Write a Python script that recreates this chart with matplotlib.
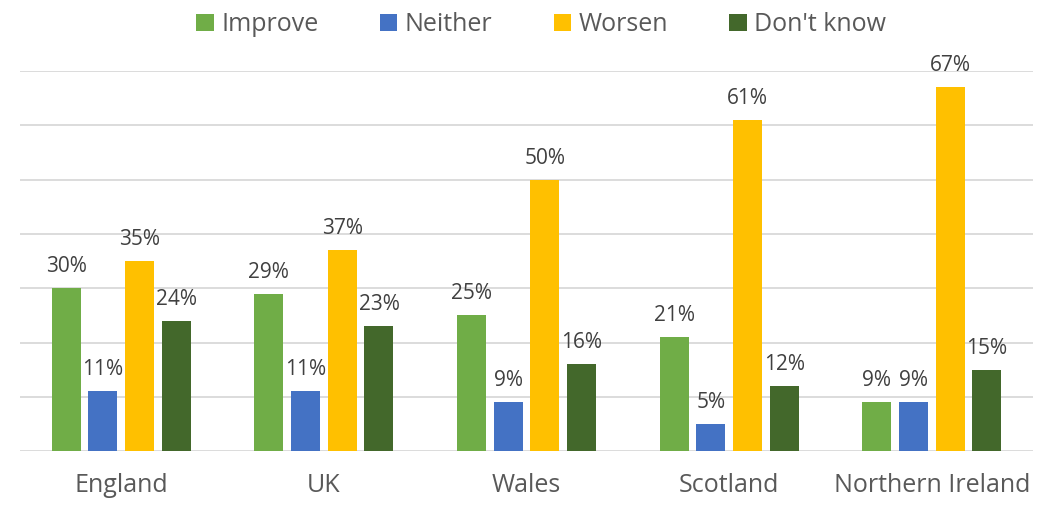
import numpy as np
import matplotlib
matplotlib.use("Agg")
from matplotlib import pyplot as plt

plt.rcParams['font.family'] = ['Open Sans', 'DejaVu Sans']

regions = ['England', 'UK', 'Wales', 'Scotland', 'Northern Ireland']
series = ['Improve', 'Neither', 'Worsen', "Don't know"]
improve = [30, 29, 25, 21, 9]
neither = [11, 11, 9, 5, 9]
worsen = [35, 37, 50, 61, 67]
dont_know = [24, 23, 16, 12, 15]
colours = ['#70AD47', '#4472C4', '#FFC000', '#43682B']

values = [improve, neither, worsen, dont_know]

fig = plt.figure(figsize=(10.49, 5.12), dpi=100)
ax = fig.add_axes([0.019, 0.119, 0.966, 0.742])

x = np.arange(len(regions))
pitch = 0.181
width = 0.143
for i, (name, vals, col) in enumerate(zip(series, values, colours)):
    pos = x + (i - 1.5) * pitch
    bars = ax.bar(pos, vals, width=width, color=col, label=name, zorder=3)
    for b, v in zip(bars, vals):
        ax.annotate(f'{v}%', (b.get_x() + b.get_width() / 2, v),
                    xytext=(0, 8), textcoords='offset points',
                    ha='center', va='bottom', fontsize=15, color='#404040')

ax.set_xlim(-0.5, len(regions) - 0.5)
ax.set_ylim(0, 70)
ax.set_yticks(np.arange(0, 71, 10))
ax.yaxis.grid(True, color='#D9D9D9', linewidth=1.3, zorder=0)
ax.tick_params(axis='y', left=False, labelleft=False)
ax.tick_params(axis='x', bottom=False, labelsize=18, labelcolor='#595959', pad=12)
ax.set_xticks(x)
ax.set_xticklabels(regions)
for s in ax.spines.values():
    s.set_visible(False)

fig.legend(loc='upper center', bbox_to_anchor=(0.516, 1.02), ncol=4, frameon=False,
           fontsize=18, labelcolor='#595959', handlelength=0.7, handleheight=0.7,
           handletextpad=0.3, columnspacing=2.45)

fig.savefig('out.png', dpi=100)
